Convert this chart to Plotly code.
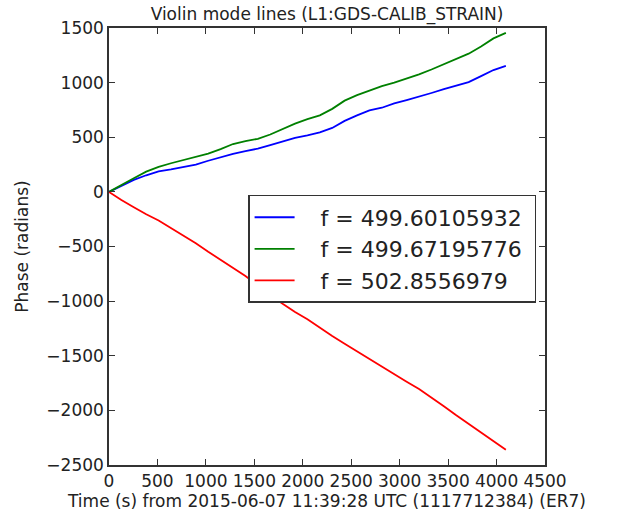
import plotly.graph_objects as go

# Elapsed time (s) since GPS 1117712384
times = [0, 128, 256, 384, 512, 640, 768, 896, 1024, 1152, 1280, 1408, 1536,
         1664, 1792, 1920, 2048, 2176, 2304, 2432, 2560, 2688, 2816, 2944,
         3072, 3200, 3328, 3456, 3584, 3712, 3840, 3968, 4096]

# Accumulated phase (radians) of each violin-mode line
phase_49960 = [0, 55, 110, 152, 188, 205, 228, 250, 285, 320, 348, 372, 396,
               428, 462, 495, 518, 545, 585, 650, 700, 745, 770, 810,
               840, 870, 905, 940, 970, 1005, 1060, 1115, 1153]
phase_49967 = [0, 65, 125, 185, 228, 262, 290, 318, 350, 392, 438, 465, 486,
               525, 577, 625, 665, 700, 760, 835, 885, 925, 968, 1000,
               1035, 1075, 1120, 1168, 1212, 1265, 1330, 1405, 1455]
phase_50285 = [0, -75, -140, -205, -262, -330, -400, -470, -548, -620, -695,
               -770, -855, -945, -1025, -1100, -1165, -1245, -1320, -1390,
               -1460, -1535, -1605, -1672, -1738, -1805, -1882, -1962, -2045,
               -2122, -2198, -2278, -2360]

labels = ["f = 499.60105932", "f = 499.67195776", "f = 502.8556979"]
colors = ["#0000ff", "#008000", "#ff0000"]
series = [phase_49960, phase_49967, phase_50285]

FONT = "DejaVu Sans"
NBSP = "\u00a0"  # non-collapsing spacing around legend text

fig = go.Figure()
for name, color, ys in zip(labels, colors, series):
    fig.add_trace(go.Scatter(x=times, y=ys, mode="lines",
                             name=NBSP * 3 + name + NBSP,
                             line=dict(color=color, width=1.8)))

axis_common = dict(
    showgrid=False, zeroline=False, showline=True, mirror="ticks",
    linecolor="#333333", linewidth=1.5, ticks="inside", ticklen=6,
    tickwidth=1, tickcolor="#333333", dtick=500,
    tickfont=dict(family=FONT, size=17, color="#222222"),
)

fig.update_layout(
    width=623, height=518,
    margin=dict(l=109, r=78, t=28, b=53),
    paper_bgcolor="white", plot_bgcolor="white",
    font=dict(family=FONT, size=17, color="#222222"),
    title=dict(text="Violin mode lines (L1:GDS-CALIB_STRAIN)",
               x=0.525, xanchor="center", y=0.985, yanchor="top",
               font=dict(family=FONT, size=17, color="#222222")),
    xaxis=dict(range=[0, 4500], tick0=0,
               title=dict(text="Time (s) from 2015-06-07 11:39:28 UTC (1117712384) (ER7)",
                          standoff=4, font=dict(family=FONT, size=17)),
               **axis_common),
    yaxis=dict(range=[-2500, 1500], tick0=0,
               title=dict(text="Phase (radians)", standoff=13,
                          font=dict(family=FONT, size=17)),
               **axis_common),
    legend=dict(x=0.319, y=0.618, xanchor="left", yanchor="top",
                bgcolor="white", bordercolor="#333333", borderwidth=1.5,
                font=dict(family=FONT, size=22, color="#222222"),
                itemwidth=40, tracegroupgap=0),
    showlegend=True,
)

fig.write_html("out.html")
